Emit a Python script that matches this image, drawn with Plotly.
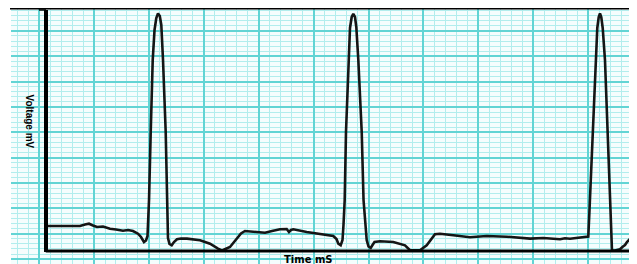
import plotly.graph_objects as go

# ECG trace: time (ms) and voltage (mV)
time_ms = [7.3, 123.9, 142.1, 156.6, 171.2, 185.8, 207.7, 233.2, 255.0, 280.5,
           298.7, 316.9, 335.2, 346.1, 357.0, 364.3, 369.8, 375.3, 381.5, 388.8,
           395.4, 401.8, 408.0, 414.6, 420.1, 426.3, 436.1, 439.7, 444.4, 449.9,
           457.9, 466.3, 477.2, 491.8, 513.7, 561.0, 597.5, 626.6, 641.2, 670.3,
           694.7, 710.4, 724.9, 755.2, 797.8, 823.3, 852.5, 876.9, 885.2, 892.5,
           900.9, 949.7, 998.2, 1046.6, 1058.3, 1064.9, 1073.6, 1080.2, 1083.8, 1088.2,
           1092.9, 1101.3, 1107.5, 1113.7, 1119.5, 1125.7, 1130.5, 1137.8, 1150.2, 1156.8,
           1168.3, 1174.9, 1182.9, 1189.5, 1196.8, 1216.8, 1265.2, 1307.8, 1326.1, 1362.5,
           1386.9, 1417.1, 1435.3, 1483.8, 1544.6, 1605.5, 1678.3, 1763.2, 1811.7, 1872.5,
           1890.8, 1909.0, 1933.4, 1957.4, 1975.6, 1980.0, 1991.7, 2002.6, 2008.4, 2013.6,
           2018.2, 2022.9, 2028.1, 2036.4, 2046.3, 2054.6, 2061.9, 2072.9, 2091.1, 2100.9,
           2109.3, 2116.6, 2122.0, 2125.5, 2131.0]
voltage_mv = [0.493, 0.493, 0.523, 0.538, 0.503, 0.473, 0.483, 0.440, 0.424, 0.400,
              0.414, 0.394, 0.341, 0.276, 0.177, 0.207, 0.296, 1.006, 2.347, 3.767,
              4.358, 4.595, 4.684, 4.634, 4.457, 3.767, 2.347, 1.006, 0.256, 0.138,
              0.112, 0.177, 0.231, 0.247, 0.243, 0.211, 0.144, 0.045, 0.010, 0.079,
              0.243, 0.345, 0.394, 0.381, 0.361, 0.394, 0.428, 0.434, 0.375, 0.414,
              0.428, 0.375, 0.329, 0.296, 0.237, 0.144, 0.112, 0.217, 0.513, 1.006,
              2.347, 3.767, 4.398, 4.614, 4.674, 4.614, 4.417, 3.767, 2.347, 1.006,
              0.217, 0.089, 0.059, 0.118, 0.177, 0.191, 0.177, 0.112, 0.014, 0.014,
              0.112, 0.329, 0.341, 0.310, 0.270, 0.296, 0.282, 0.243, 0.256, 0.231,
              0.252, 0.243, 0.256, 0.276, 0.286, 0.809, 2.347, 3.767, 4.398, 4.614,
              4.684, 4.614, 4.398, 3.767, 2.347, 1.006, 0.010, 0.010, 0.034, 0.085,
              0.118, 0.177, 0.217, 0.227, 0.197]

x_label = "Time mS"
y_label = "Voltage mV"

X_RANGE = [-127.5, 2131.2]
Y_RANGE = [-0.2564, 4.772]

MAJOR = "rgb(98,212,212)"
MINOR = "rgb(178,237,237)"

fig = go.Figure()
fig.add_trace(go.Scatter(x=time_ms, y=voltage_mv, mode="lines",
                         line=dict(color="#151515", width=2.6),
                         hoverinfo="skip", showlegend=False))

# axes drawn as thick black lines
fig.add_shape(type="line", x0=0, x1=0, y0=-0.02, y1=4.753,
              line=dict(color="black", width=4))
fig.add_shape(type="line", x0=-25.5, x1=0, y0=4.753, y1=4.753,
              line=dict(color="black", width=1.5))
fig.add_shape(type="line", x0=-1, x1=2127, y0=0, y1=0,
              line=dict(color="black", width=3))
# top border
fig.add_shape(type="line", xref="paper", yref="paper",
              x0=-0.0016, x1=1.0097, y0=1.0039, y1=1.0039,
              line=dict(color="black", width=3))

fig.add_annotation(text="<b>" + y_label + "</b>", xref="paper", yref="paper",
                   x=(29.5 - 11) / 620, y=(264 - 121) / 255, showarrow=False,
                   xanchor="center", yanchor="middle", textangle=90,
                   font=dict(family="Liberation Sans Narrow, Arial Narrow, sans-serif",
                             size=10, color="black"))
fig.add_annotation(text="<b>" + x_label + "</b>", xref="paper", yref="paper",
                   x=(308 - 11) / 620, y=(264 - 259) / 255, showarrow=False,
                   xanchor="center", yanchor="middle",
                   font=dict(family="DejaVu Sans, sans-serif", size=10, color="black"))

fig.update_xaxes(range=X_RANGE, showticklabels=False, ticks="", zeroline=False,
                 showline=False, showgrid=True, tick0=175, dtick=200,
                 gridcolor=MAJOR, gridwidth=2,
                 minor=dict(tick0=175, dtick=40, showgrid=True,
                            gridcolor=MINOR, gridwidth=1, ticks=""))
fig.update_yaxes(range=Y_RANGE, showticklabels=False, ticks="", zeroline=False,
                 showline=False, showgrid=True, tick0=0.34, dtick=0.5,
                 gridcolor=MAJOR, gridwidth=2,
                 minor=dict(tick0=0.34, dtick=0.1, showgrid=True,
                            gridcolor=MINOR, gridwidth=1, ticks=""))

# the page places the figure 8 px in from the window's top-left corner
fig.update_layout(width=629, height=256,
                  margin=dict(l=3, r=6, t=1, b=0, pad=0),
                  paper_bgcolor="white", plot_bgcolor="#f5fdfd")

fig.write_html("out.html")
